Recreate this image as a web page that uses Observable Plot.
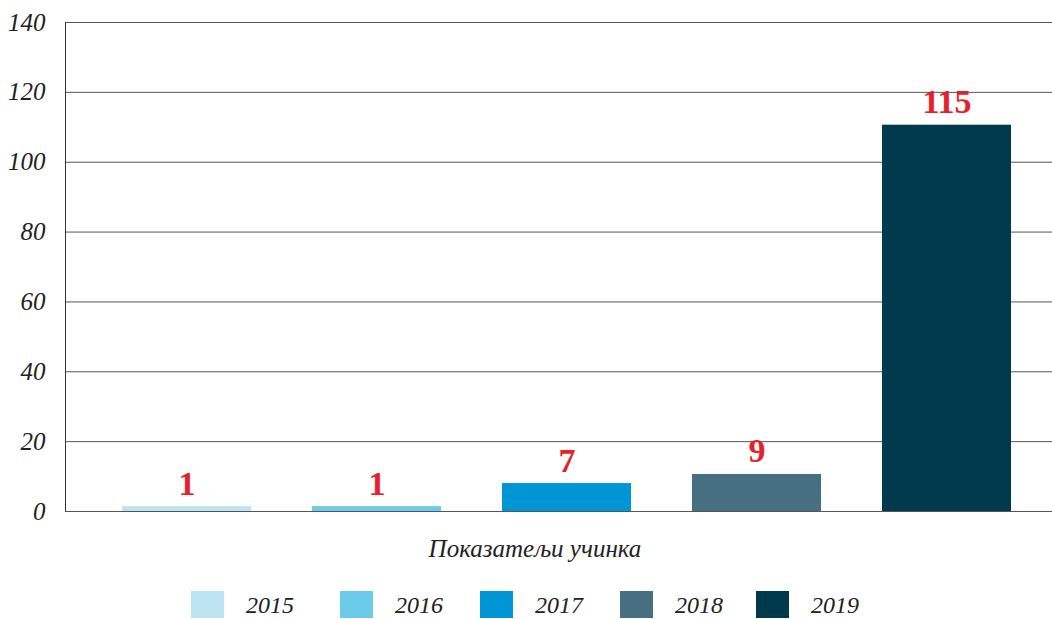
<!DOCTYPE html>
<html>
<head>
<meta charset="utf-8">
<script src="https://cdn.jsdelivr.net/npm/d3@7"></script>
<script src="https://cdn.jsdelivr.net/npm/@observablehq/plot@0.6"></script>
<style>
  html, body { margin: 0; padding: 0; background: #fff; font-family: "Liberation Serif", "Times New Roman", serif; }
  #wrap { width: 1052px; height: 619px; overflow: hidden; }
  #chart svg { display: block; }
  #xtitle { width: 1070px; margin-top: 14px; height: 30px; line-height: 30px; text-align: center; font-style: italic; font-size: 25px; color: #222; }
  #legend { margin-top: 27px; margin-left: 191px; display: flex; align-items: center; height: 27px; }
  .item { display: flex; align-items: center; height: 27px; }
  .sw { width: 33px; height: 27px; margin-right: 22px; }
  .lab { font-style: italic; font-size: 24px; color: #222; width: 56px; line-height: 26px; white-space: nowrap; }
</style>
</head>
<body>
<div id="wrap">
  <div id="chart"></div>
  <div id="xtitle">Показатељи учинка</div>
  <div id="legend"></div>
</div>
<script>
const years = ["2015", "2016", "2017", "2018", "2019"];
const barHeights = [1.4, 1.4, 8, 10.6, 110.6];
const labels = ["1", "1", "7", "9", "115"];
const colors = ["#bde5f1", "#6dcbea", "#0096d6", "#476f82", "#023a4d"];
const yTicks = [0, 20, 40, 60, 80, 100, 120, 140];
const legendGaps = [38, 29, 29, 25, 0];

const data = years.map((y, i) => ({year: y, value: barHeights[i], label: labels[i]}));

const chart = Plot.plot({
  width: 1052,
  height: 520,
  marginTop: 22,
  marginBottom: 9,
  marginLeft: 65,
  marginRight: 0,
  x: {domain: years, range: [65, 1068], paddingInner: 0.323, paddingOuter: 0.294, axis: null},
  y: {domain: [0, 140], ticks: yTicks},
  color: {domain: years, range: colors},
  style: {fontFamily: "Liberation Serif, Times New Roman, serif", overflow: "visible"},
  marks: [
    Plot.ruleY(yTicks, {stroke: "#555", strokeWidth: 1}),
    Plot.axisY({ticks: yTicks, tickSize: 0, tickPadding: 20, fontSize: 25, fontStyle: "italic", fill: "#222", label: null}),
    Plot.barY(data, {x: "year", y: "value", fill: "year"}),
    Plot.text(data, {x: "year", y: "value", text: "label", lineAnchor: "bottom", dy: -12, fill: "#e8202a", fontSize: 34, fontWeight: "bold", fontFamily: "Liberation Serif, Times New Roman, serif"})
  ]
});
d3.select(chart).append("line")
  .attr("x1", 65.5).attr("x2", 65.5).attr("y1", 22).attr("y2", 511)
  .attr("stroke", "#333");
document.getElementById("chart").appendChild(chart);

const lg = document.getElementById("legend");
years.forEach((y, i) => {
  const it = document.createElement("div");
  it.className = "item";
  it.style.marginRight = legendGaps[i] + "px";
  it.innerHTML = `<div class="sw" style="background:${colors[i]}"></div><div class="lab">${y}</div>`;
  lg.appendChild(it);
});
</script>
</body>
</html>
